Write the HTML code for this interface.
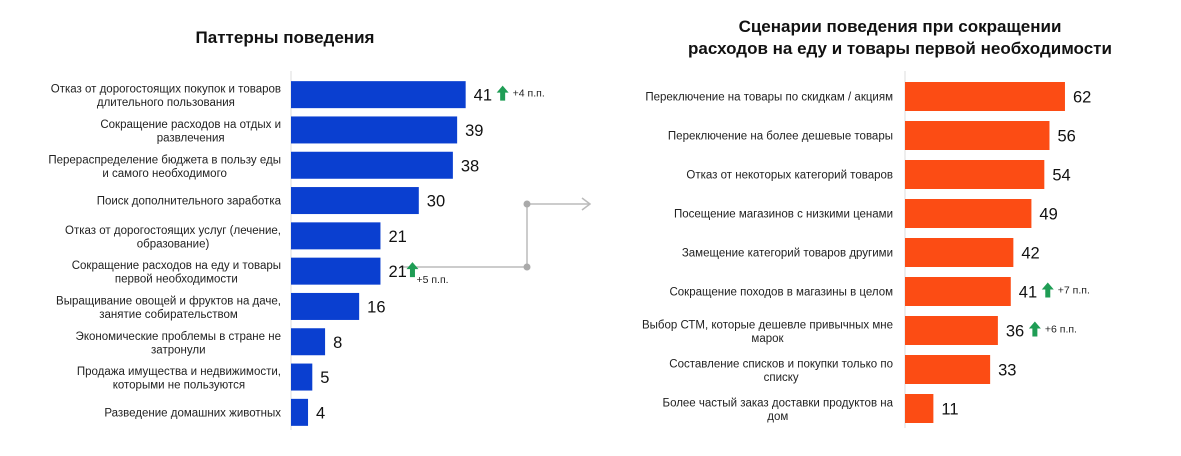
<!DOCTYPE html>
<html><head><meta charset="utf-8">
<style>
body{margin:0;background:#fff;font-family:"Liberation Sans",sans-serif;}
svg text{font-family:"Liberation Sans",sans-serif;}
</style></head>
<body>
<svg width="1181" height="451" viewBox="0 0 1181 451" id="s">
<text x="285" y="43" text-anchor="middle" font-size="17" font-weight="bold" fill="#111">Паттерны поведения</text>
<text x="900" y="32" text-anchor="middle" font-size="17" font-weight="bold" fill="#111">Сценарии поведения при сокращении</text>
<text x="900" y="54" text-anchor="middle" font-size="17" font-weight="bold" fill="#111">расходов на еду и товары первой необходимости</text>
<g stroke="#bbb" stroke-width="1.5" fill="none">
<polyline points="400,267 527,267 527,204 590,204"/>
<polyline points="582,198 590,204 582,210"/>
</g>
<circle cx="527" cy="204" r="3.5" fill="#aaa"/>
<circle cx="527" cy="267" r="3.5" fill="#aaa"/>
<g id="left"></g><g id="right"></g>
</svg>
<script>
const leftCats=[["Отказ от дорогостоящих покупок и товаров","длительного пользования"],["Сокращение расходов на отдых и","развлечения"],["Перераспределение бюджета в пользу еды","и самого необходимого"],["Поиск дополнительного заработка"],["Отказ от дорогостоящих услуг (лечение,","образование)"],["Сокращение расходов на еду и товары","первой необходимости"],["Выращивание овощей и фруктов на даче,","занятие собирательством"],["Экономические проблемы в стране не","затронули"],["Продажа имущества и недвижимости,","которыми не пользуются"],["Разведение домашних животных"]];
const leftValues=[41,39,38,30,21,21,16,8,5,4];
const leftDeltas=["+4 п.п.","","","","","+5 п.п.","","","",""];
const rightCats=[["Переключение на товары по скидкам / акциям"],["Переключение на более дешевые товары"],["Отказ от некоторых категорий товаров"],["Посещение магазинов с низкими ценами"],["Замещение категорий товаров другими"],["Сокращение походов в магазины в целом"],["Выбор СТМ, которые дешевле привычных мне","марок"],["Составление списков и покупки только по","списку"],["Более частый заказ доставки продуктов на","дом"]];
const rightValues=[62,56,54,49,42,41,36,33,11];
const rightDeltas=["","","","","","+7 п.п.","+6 п.п.","",""];
const NS="http://www.w3.org/2000/svg";
function mk(tag,attrs,parent){const e=document.createElementNS(NS,tag);for(const k in attrs)e.setAttribute(k,attrs[k]);parent.appendChild(e);return e;}
function draw(g,cats,vals,deltas,cfg){
 const axis=mk('line',{x1:cfg.x0,x2:cfg.x0,y1:cfg.y0-6,y2:cfg.y0+cats.length*cfg.pitch,stroke:'#ddd'},g);
 
 
 cats.forEach((c,i)=>{
  const yc=cfg.y0+i*cfg.pitch+cfg.pitch/2;
  const w=vals[i]*cfg.k;
  const r=mk('rect',{x:cfg.x0,y:yc-cfg.bh/2,width:w,height:cfg.bh,fill:cfg.color},g);
  
  
  const t=mk('text',{'font-size':11.5,fill:'#222'},g);
  
  
  const y1=c.length>1?yc-2:yc+4;
  const spans=c.map((ln,j)=>{const s=mk('tspan',{x:cfg.lx,y:y1+j*13.5,'text-anchor':'end'},t);s.textContent=ln;return s;});
  if(spans.length>1){
   const w1=spans[0].getComputedTextLength();
   const cx=cfg.lx-w1/2;
   spans.forEach(s=>{s.setAttribute('x',cx);s.setAttribute('text-anchor','middle');});
  }
  const vx=cfg.x0+w+8;
  const v=mk('text',{x:vx,y:yc+6,'font-size':16.5,fill:'#111'},g);
  v.textContent=vals[i];
  
  
  if(deltas[i]){
   const tight=(i==5&&cfg.p=='left');
   const ax=vx+(String(vals[i]).length*9.5)+(tight?5:10);
   const a=mk('path',{d:`M${ax} ${yc-9} L${ax+6} ${yc-2} L${ax+2.5} ${yc-2} L${ax+2.5} ${yc+6} L${ax-2.5} ${yc+6} L${ax-2.5} ${yc-2} L${ax-6} ${yc-2} Z`,fill:'#1f9d55'},g);
   
   
   const d=mk('text',{x:ax+(tight?4:10),y:yc+(tight?12:2),'font-size':10.5,fill:'#222'},g);
   d.textContent=deltas[i];
   
   
  }
 });
}
draw(document.getElementById('left'),leftCats,leftValues,leftDeltas,{p:'left',x0:291,y0:77,pitch:35.3,bh:27,k:4.26,lx:281,color:'#0a3fd0'});
draw(document.getElementById('right'),rightCats,rightValues,rightDeltas,{p:'right',x0:905,y0:77,pitch:39,bh:29,k:2.58,lx:893,color:'#fc4c14'});
</script>
</body></html>
